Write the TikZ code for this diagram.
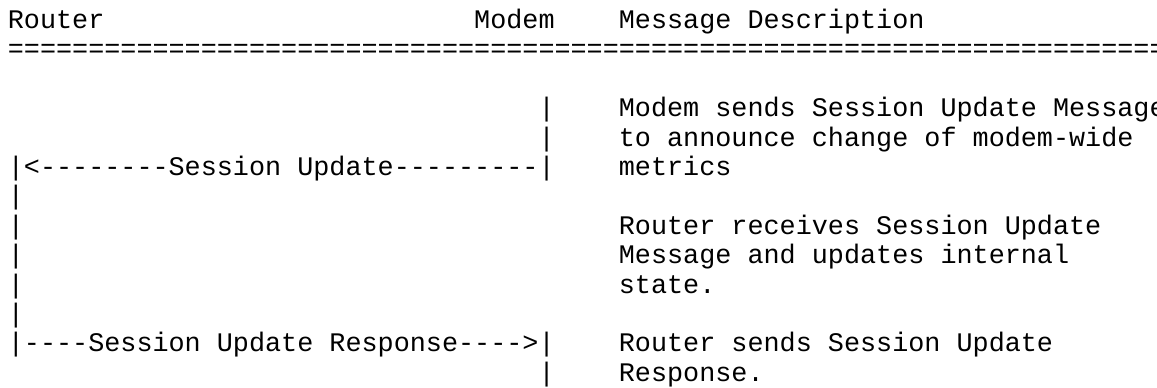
\documentclass[tikz,border=0pt]{standalone}
\usepackage{fontspec}
\setmonofont{Liberation Mono}
\tikzset{
  ascii/.style={font=\ttfamily\fontsize{20.1pt}{22pt}\selectfont, anchor=base west, inner sep=0pt, text=black},
}
\begin{document}
\begin{tikzpicture}[x=12.06pt, y=-22.05pt]
  \useasboundingbox (-0.4726,-0.9694) rectangle (71.48,12.194);
  % ---- Header ----
  \node[ascii] (router) at (0,0) {Router};
  \node[ascii] (modem) at (29,0) {Modem};
  \node[ascii] (msgdesc) at (38,0) {Message Description};
  \node[ascii] (rule) at (0,1) {========================================================================};

  % ---- Lifelines ----
  \foreach \r in {6,...,10} {\node[ascii] (routerline\r) at (0,\r) {|};}
  \foreach \r in {3,4,12} {\node[ascii] (modemline\r) at (33,\r) {|};}

  % ---- Messages ----
  \node[ascii] (update) at (0,5) {|<--------Session Update---------|};
  \node[ascii] (response) at (0,11) {|----Session Update Response---->|};

  % ---- Descriptions ----
  \foreach \r/\t in {3/Modem sends Session Update Message, 4/to announce change of modem-wide, 5/metrics,
                     7/Router receives Session Update, 8/Message and updates internal, 9/state.,
                     11/Router sends Session Update, 12/Response.}
    {\node[ascii] (desc\r) at (38,\r) {\t};}
\end{tikzpicture}
\end{document}
